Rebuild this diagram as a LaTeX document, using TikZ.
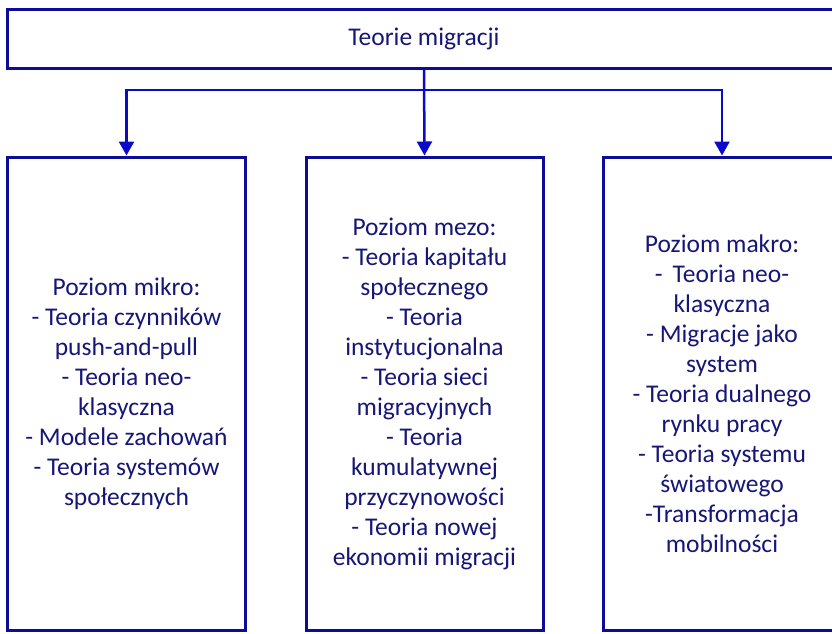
\documentclass[tikz,border=0pt]{standalone}
\usepackage{fontspec}
\setmainfont{Carlito}
\usetikzlibrary{arrows.meta}
\definecolor{boxblue}{RGB}{12,12,150}
\definecolor{txtblue}{RGB}{22,22,120}
\definecolor{arrblue}{RGB}{10,10,200}
\begin{document}
\begin{tikzpicture}[x=1pt,y=-1pt,
  box/.style={draw=boxblue, line width=3pt, inner sep=0pt, text=txtblue,
    font=\fontsize{25.5}{30}\selectfont, align=center},
  conn/.style={draw=arrblue, line width=2.5pt,
    -{Triangle[width=15pt,length=14pt,fill=arrblue]}}]
\useasboundingbox (0,0) rectangle (832,633);
\clip (0,0) rectangle (832,633);

% header
\node[box, minimum width=834pt, minimum height=59pt] (top) at (424,38.5) {Teorie migracji};

% three levels
\node[box, minimum width=238pt, minimum height=473pt] (mikro) at (126.5,393.5)
  {Poziom mikro:\\- Teoria czynników\\push-and-pull\\- Teoria neo-\\klasyczna\\- Modele zachowań\\- Teoria systemów\\społecznych};
\node[box, minimum width=237pt, minimum height=473pt] (mezo) at (424.5,393.5)
  {Poziom mezo:\\- Teoria kapitału\\społecznego\\- Teoria\\instytucjonalna\\- Teoria sieci\\migracyjnych\\- Teoria\\kumulatywnej\\przyczynowości\\- Teoria nowej\\ekonomii migracji};
\node[box, minimum width=238pt, minimum height=473pt] (makro) at (722,393.5)
  {Poziom makro:\\-\hspace{10pt}Teoria neo-\\klasyczna\\- Migracje jako\\system\\- Teoria dualnego\\rynku pracy\\- Teoria systemu\\światowego\\-Transformacja\\mobilności};

% connectors
\coordinate (bar) at (424,90);
\draw[conn] (top.south) -- (mezo.north);
\draw[conn] (top.south |- bar) -| (mikro.north);
\draw[conn] (top.south |- bar) -| (makro.north);
\end{tikzpicture}
\end{document}
